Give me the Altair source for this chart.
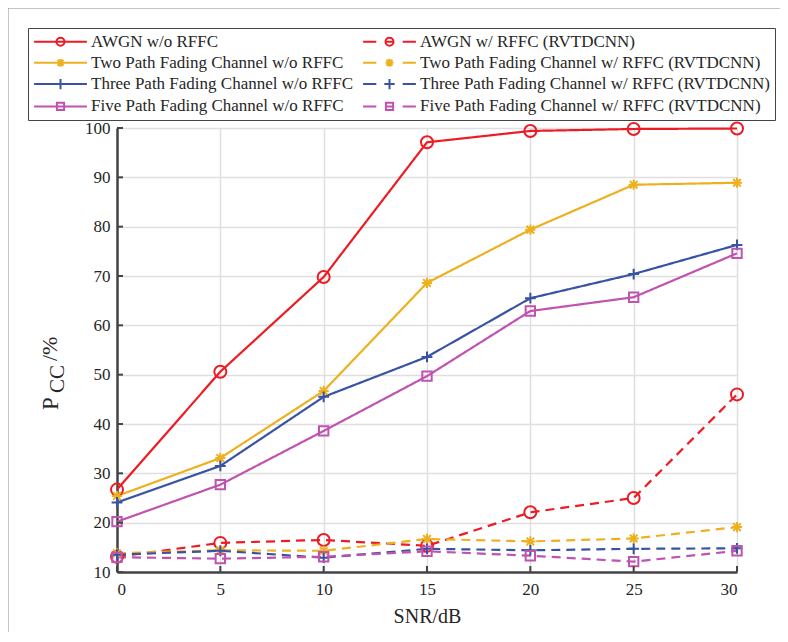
import altair as alt
import pandas as pd

snr = [0, 5, 10, 15, 20, 25, 30]

labels = [
    "AWGN w/o RFFC",
    "AWGN w/ RFFC (RVTDCNN)",
    "Two Path Fading Channel w/o RFFC",
    "Two Path Fading Channel w/ RFFC (RVTDCNN)",
    "Three Path Fading Channel w/o RFFC",
    "Three Path Fading Channel w/ RFFC (RVTDCNN)",
    "Five Path Fading Channel w/o RFFC",
    "Five Path Fading Channel w/ RFFC (RVTDCNN)",
]

awgn_wo = [26.7, 50.6, 69.8, 97.1, 99.4, 99.8, 99.9]
awgn_w = [13.1, 15.9, 16.5, 15.3, 22.1, 25.0, 46.0]
two_wo = [25.4, 33.1, 46.7, 68.6, 79.4, 88.5, 88.9]
two_w = [13.8, 14.4, 14.3, 16.7, 16.2, 16.8, 19.1]
three_wo = [24.1, 31.5, 45.5, 53.6, 65.5, 70.4, 76.3]
three_w = [13.5, 14.3, 12.9, 14.7, 14.4, 14.7, 14.8]
five_wo = [20.2, 27.7, 38.6, 49.7, 62.9, 65.7, 74.6]
five_w = [13.0, 12.7, 13.1, 14.2, 13.3, 12.1, 14.3]

series_values = [awgn_wo, awgn_w, two_wo, two_w, three_wo, three_w, five_wo, five_w]

colors = ["#ED1C24", "#ED1C24", "#EDB120", "#EDB120",
          "#3953A4", "#3953A4", "#C052B0", "#C052B0"]
dashed = [False, True, False, True, False, True, False, True]

# legend shows two columns: w/o RFFC on the left, w/ RFFC on the right
legend_order = labels[0::2] + labels[1::2]

x_ticks = [0, 5, 10, 15, 20, 25, 30]
y_ticks = [10, 20, 30, 40, 50, 60, 70, 80, 90, 100]

FONT = "Liberation Serif"
TXT = "#262626"
AXC = "#444444"


def circ(r):
    return f"M-{r},0A{r},{r} 0 1,1 {r},0A{r},{r} 0 1,1 -{r},0Z"


def star(r):
    d = round(r * 0.75, 3)
    return (f"M-{r},0L{r},0M0,-{r}L0,{r}"
            f"M-{d},-{d}L{d},{d}M-{d},{d}L{d},-{d}")


def plus(r):
    return f"M-{r},0L{r},0M0,-{r}L0,{r}"


def square(r):
    return f"M-{r},-{r}L{r},-{r}L{r},{r}L-{r},{r}Z"


plot_markers = [circ(1), circ(1), star(0.85), star(0.85),
                plus(0.9), plus(0.9), square(0.78), square(0.78)]
leg_markers = [circ(1), circ(1), star(1.0), star(1.0),
               plus(1.3), plus(1.3), square(0.9), square(0.9)]
solid_line = "M-6.6,0L6.6,0"
dash_line = "M-6.6,0L-3.3,0M-1,0L1,0M3.3,0L6.6,0"
legend_paths = [(dash_line if d else solid_line) + m for d, m in zip(dashed, leg_markers)]

mkeys = [f"m{i}" for i in range(len(labels))]

rows = []
for lab, mk, vals in zip(labels, mkeys, series_values):
    for s, v in zip(snr, vals):
        rows.append({"snr": s, "val": v, "series": lab, "mkey": mk})
df = pd.DataFrame(rows)

color_scale = alt.Scale(domain=labels + mkeys, range=colors + colors)
shape_scale = alt.Scale(domain=labels + mkeys, range=legend_paths + plot_markers)
dash_scale = alt.Scale(domain=mkeys, range=[[9, 6] if d else [1, 0] for d in dashed])

W, H = 620, 444

leg = alt.Legend(
    title=None, values=legend_order, orient="none", legendX=-89, legendY=-100,
    columns=2, symbolSize=64, symbolStrokeWidth=2, symbolOpacity=1,
    symbolOffset=19, labelOffset=22, padding=5, rowPadding=3.3, columnPadding=5,
    labelFont=FONT, labelFontSize=17, labelColor=TXT, labelLimit=400,
    strokeColor="#444444", fillColor="white",
)

xenc = alt.X("snr:Q", scale=alt.Scale(domain=[0, 30], nice=False),
             axis=alt.Axis(values=x_ticks, title="SNR/dB"))
yenc = alt.Y("val:Q", scale=alt.Scale(domain=[10, 100], nice=False),
             axis=alt.Axis(values=y_ticks, title=None))

base = alt.Chart(df)

lines = base.mark_line(strokeWidth=2.2).encode(
    x=xenc, y=yenc,
    color=alt.Color("mkey:N", scale=color_scale, legend=leg),
    strokeDash=alt.StrokeDash("mkey:N", scale=dash_scale, legend=None),
)

points = base.mark_point(filled=False, strokeWidth=2, size=144, opacity=1).encode(
    x=xenc, y=yenc,
    color=alt.Color("mkey:N", scale=color_scale, legend=leg),
    shape=alt.Shape("mkey:N", scale=shape_scale, legend=leg),
)

legend_layer = base.mark_point(filled=False, opacity=0, strokeWidth=2).encode(
    x=xenc, y=yenc,
    color=alt.Color("series:N", scale=color_scale, legend=leg),
    shape=alt.Shape("series:N", scale=shape_scale, legend=leg),
)

tick_y = pd.DataFrame({"v": y_ticks})
tick_x = pd.DataFrame({"v": x_ticks})

yt = alt.Chart(tick_y).mark_rule(color=AXC, strokeWidth=2).encode(
    y="v:Q", x=alt.value(0), x2=alt.value(6))
xt = alt.Chart(tick_x).mark_rule(color=AXC, strokeWidth=2).encode(
    x="v:Q", y=alt.value(H), y2=alt.value(H - 6))

one = pd.DataFrame({"t": ["a"]})


def vtext(txt, x, y, size):
    return alt.Chart(one).mark_text(angle=270, align="left", baseline="alphabetic",
                                    font=FONT, fontSize=size, color=TXT).encode(
        text=alt.value(txt), x=alt.value(x), y=alt.value(y))


tP = vtext("P", -59, 282, 23)
tCC = vtext("CC", -53, 265, 21)
tPct = vtext("/%", -60, 233, 22)

frame_top = alt.Chart(one).mark_rule(color="#8a8a8a", strokeWidth=1).encode(
    x=alt.value(-109), x2=alt.value(700), y=alt.value(-120))
frame_left = alt.Chart(one).mark_rule(color="#8a8a8a", strokeWidth=1).encode(
    x=alt.value(-109), y=alt.value(-120), y2=alt.value(560))

chart = alt.layer(frame_top, frame_left, lines, points, legend_layer, yt, xt,
                  tP, tCC, tPct).properties(
    width=W, height=H,
    autosize=alt.AutoSizeParams(type="none"),
    padding={"left": 109, "top": 120, "right": 43, "bottom": 60},
).configure_view(stroke=None).configure(background="white").configure_axis(
    grid=True, ticks=False, gridColor="#dfdfdf", gridWidth=1.5,
    domainColor=AXC, domainWidth=2.5,
    labelFont=FONT, labelFontSize=17, labelColor=TXT,
    titleFont=FONT, titleFontSize=20, titleFontWeight="normal", titleColor=TXT,
).configure_axisX(labelPadding=9, titlePadding=9).configure_axisY(labelPadding=7)

chart.save("out.html", embed_options={"renderer": "svg", "actions": False})
